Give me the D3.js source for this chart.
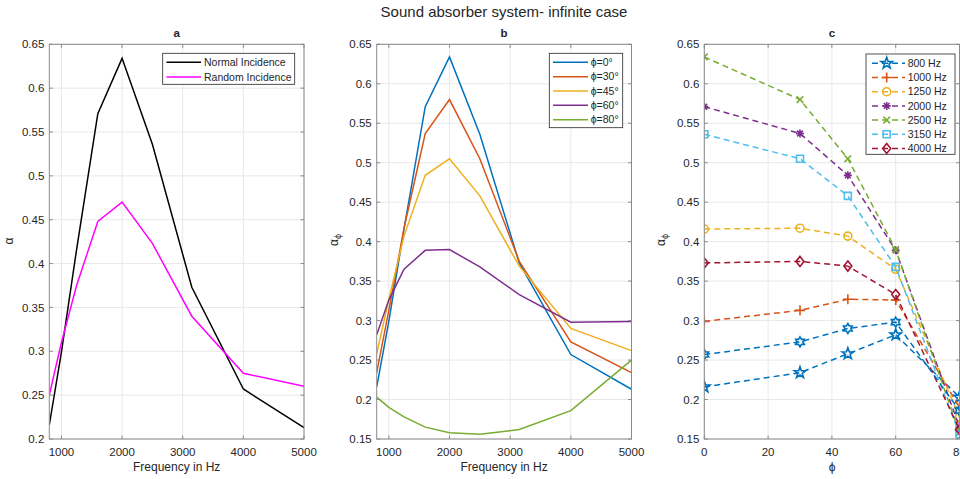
<!DOCTYPE html>
<html><head><meta charset="utf-8">
<script src="https://cdn.jsdelivr.net/npm/d3@7"></script>
<style>
body{margin:0;background:#fff}
svg{display:block}
text{font-family:"Liberation Sans",Arial,Helvetica,sans-serif;fill:#262626}
</style>
</head><body>
<svg id="chart" width="960" height="479"></svg>
<script>
// ---------------- DATA ----------------
const freqs = [800, 1000, 1250, 1600, 2000, 2500, 3150, 4000, 5000];
const freqTicks = [1000, 2000, 3000, 4000, 5000];

const normalIncidence = [0.216, 0.299, 0.416, 0.571, 0.634, 0.536, 0.373, 0.257, 0.213];
const randomIncidence = [0.250, 0.310, 0.375, 0.448, 0.470, 0.423, 0.340, 0.275, 0.260];

const phi0  = [0.216, 0.299, 0.416, 0.571, 0.634, 0.536, 0.373, 0.257, 0.213];
const phi30 = [0.234, 0.313, 0.417, 0.537, 0.580, 0.505, 0.375, 0.273, 0.234];
const phi45 = [0.258, 0.327, 0.407, 0.484, 0.505, 0.458, 0.369, 0.290, 0.262];
const phi60 = [0.282, 0.326, 0.365, 0.389, 0.390, 0.368, 0.333, 0.298, 0.299];
const phi80 = [0.203, 0.190, 0.178, 0.165, 0.158, 0.156, 0.162, 0.186, 0.250];

const angles = [0, 30, 45, 60, 80];
const angleTicks = [0, 20, 40, 60, 80];
const angleLabels = ["ϕ=0°", "ϕ=30°", "ϕ=45°", "ϕ=60°", "ϕ=80°"];

// panel c: one series per frequency (first 8 frequencies), legend for first 7
const cSeriesCount = 8;
const cLegendLabels = ["800 Hz", "1000 Hz", "1250 Hz", "2000 Hz", "2500 Hz", "3150 Hz", "4000 Hz"];
const cMarkers = ["pentagram", "plus", "circle", "asterisk", "x", "square", "diamond", "hexagram"];

const yTicksA = [0.2, 0.25, 0.3, 0.35, 0.4, 0.45, 0.5, 0.55, 0.6, 0.65];
const yTicksBC = [0.15, 0.2, 0.25, 0.3, 0.35, 0.4, 0.45, 0.5, 0.55, 0.6, 0.65];

const colors = ["#0072BD", "#D95319", "#EDB120", "#7E2F8E", "#77AC30", "#4DBEEE", "#A2142F"];

// ---------------- LAYOUT ----------------
const svg = d3.select("#chart");
const yTop = 44.3, yBottom = 439;
const panels = {
  a: {l: 49.3, r: 304},
  b: {l: 376.7, r: 631.5},
  c: {l: 704.3, r: 959.5}
};
const axisCol = "#8a8a8a", gridCol = "#e8e8e8";
const tickFs = 11.5;

function fmt(v){ return String(+v.toFixed(2)); }

function makeAxes(p, xDomain, yDomain, xTicks, yTicks, title, id){
  const x = d3.scaleLinear().domain(xDomain).range([p.l, p.r]);
  const y = d3.scaleLinear().domain(yDomain).range([yBottom, yTop]);
  const g = svg.append("g");
  g.selectAll(null).data(xTicks).enter().append("line")
    .attr("x1", d=>x(d)).attr("x2", d=>x(d)).attr("y1", yTop).attr("y2", yBottom)
    .attr("stroke", gridCol).attr("stroke-width", 1);
  g.selectAll(null).data(yTicks).enter().append("line")
    .attr("x1", p.l).attr("x2", p.r).attr("y1", d=>y(d)).attr("y2", d=>y(d))
    .attr("stroke", gridCol).attr("stroke-width", 1);
  svg.append("clipPath").attr("id", "clip"+id).append("rect")
    .attr("x", p.l).attr("y", yTop).attr("width", p.r-p.l).attr("height", yBottom-yTop);
  const plot = svg.append("g").attr("clip-path", "url(#clip"+id+")");
  const front = svg.append("g");
  front.append("rect").attr("x", p.l).attr("y", yTop).attr("width", p.r-p.l).attr("height", yBottom-yTop)
    .attr("fill", "none").attr("stroke", axisCol).attr("stroke-width", 1);
  const tl = 3.5;
  xTicks.forEach(t=>{
    front.append("line").attr("x1", x(t)).attr("x2", x(t)).attr("y1", yBottom).attr("y2", yBottom-tl).attr("stroke", axisCol);
    front.append("line").attr("x1", x(t)).attr("x2", x(t)).attr("y1", yTop).attr("y2", yTop+tl).attr("stroke", axisCol);
    front.append("text").attr("x", x(t)).attr("y", 455.5).attr("text-anchor", "middle")
      .attr("font-size", tickFs).text(t);
  });
  yTicks.forEach(t=>{
    front.append("line").attr("x1", p.l).attr("x2", p.l+tl).attr("y1", y(t)).attr("y2", y(t)).attr("stroke", axisCol);
    front.append("line").attr("x1", p.r).attr("x2", p.r-tl).attr("y1", y(t)).attr("y2", y(t)).attr("stroke", axisCol);
    front.append("text").attr("x", p.l-5).attr("y", y(t)).attr("dy", "0.36em").attr("text-anchor", "end")
      .attr("font-size", tickFs).text(fmt(t));
  });
  front.append("text").attr("x", (p.l+p.r)/2).attr("y", 37).attr("text-anchor", "middle")
    .attr("font-size", 11.5).attr("font-weight", "bold").text(title);
  return {x, y, plot, front};
}

svg.append("text").attr("x", 504).attr("y", 16.5).attr("text-anchor", "middle")
  .attr("font-size", 15).text("Sound absorber system- infinite case");

// ---------------- PANEL A ----------------
const A = makeAxes(panels.a, [800, 5000], [0.2, 0.65], freqTicks, yTicksA, "a", "a");
const lineA = d3.line().x((d,i)=>A.x(freqs[i])).y(d=>A.y(d));
A.plot.append("path").datum(normalIncidence).attr("d", lineA).attr("fill","none").attr("stroke","#000").attr("stroke-width",1.5);
A.plot.append("path").datum(randomIncidence).attr("d", lineA).attr("fill","none").attr("stroke","#FF00FF").attr("stroke-width",1.5);
svg.append("text").attr("x", (panels.a.l+panels.a.r)/2).attr("y", 471).attr("text-anchor","middle").attr("font-size",12).text("Frequency in Hz");
svg.append("text").attr("transform","translate(13,241) rotate(-90)").attr("text-anchor","middle").attr("font-size",12).text("α");
(function(){
  const g = svg.append("g");
  g.append("rect").attr("x",162.7).attr("y",53.3).attr("width",132).attr("height",31).attr("fill","#fff").attr("stroke","#262626").attr("stroke-width",0.8);
  const items = [["Normal Incidence","#000"],["Random Incidence","#FF00FF"]];
  items.forEach((it,i)=>{
    const yy = 62.3 + i*14.7;
    g.append("line").attr("x1",166.5).attr("x2",201).attr("y1",yy).attr("y2",yy).attr("stroke",it[1]).attr("stroke-width",1.5);
    g.append("text").attr("x",204).attr("y",yy).attr("dy","0.36em").attr("font-size",10.5).text(it[0]);
  });
})();

// ---------------- PANEL B ----------------
const B = makeAxes(panels.b, [800, 5000], [0.15, 0.65], freqTicks, yTicksBC, "b", "b");
const lineB = d3.line().x((d,i)=>B.x(freqs[i])).y(d=>B.y(d));
const phiSeries = [phi0, phi30, phi45, phi60, phi80];
phiSeries.forEach((s,i)=>{
  B.plot.append("path").datum(s).attr("d", lineB).attr("fill","none").attr("stroke",colors[i]).attr("stroke-width",1.5);
});
svg.append("text").attr("x", (panels.b.l+panels.b.r)/2).attr("y", 471).attr("text-anchor","middle").attr("font-size",12).text("Frequency in Hz");
function alphaPhiLabel(xp){
  const t = svg.append("text").attr("transform",`translate(${xp},240) rotate(-90)`).attr("text-anchor","middle").attr("font-size",12);
  t.append("tspan").text("α");
  t.append("tspan").attr("font-size",9).attr("dy",3).text("ϕ");
}
alphaPhiLabel(338);
(function(){
  const g = svg.append("g");
  g.append("rect").attr("x",549.3).attr("y",53.3).attr("width",73.4).attr("height",74.4).attr("fill","#fff").attr("stroke","#262626").attr("stroke-width",0.8);
  angleLabels.forEach((lab,i)=>{
    const yy = 62.3 + i*14.35;
    g.append("line").attr("x1",553).attr("x2",588).attr("y1",yy).attr("y2",yy).attr("stroke",colors[i]).attr("stroke-width",1.5);
    g.append("text").attr("x",590.7).attr("y",yy).attr("dy","0.36em").attr("font-size",10.5).text(lab);
  });
})();

// ---------------- PANEL C ----------------
function markerPath(type){
  const star = (n, R, r) => {
    const pts = [];
    for (let k=0;k<2*n;k++){
      const a = -Math.PI/2 + k*Math.PI/n;
      const rr = k%2===0 ? R : r;
      pts.push([rr*Math.cos(a), rr*Math.sin(a)]);
    }
    return "M" + pts.map(p=>p[0].toFixed(2)+","+p[1].toFixed(2)).join("L") + "Z";
  };
  switch(type){
    case "pentagram": return star(5, 6, 2.4);
    case "hexagram": return star(6, 5, 2.9);
    case "plus": return "M-5,0H5M0,-5V5";
    case "circle": return "M4,0A4,4 0 1,1 -4,0A4,4 0 1,1 4,0Z";
    case "asterisk": return "M-4,0H4M0,-4V4M-2.9,-2.9L2.9,2.9M-2.9,2.9L2.9,-2.9";
    case "x": return "M-3.3,-3.3L3.3,3.3M-3.3,3.3L3.3,-3.3";
    case "square": return "M-3.5,-3.5H3.5V3.5H-3.5Z";
    case "diamond": return "M0,-5L4,0L0,5L-4,0Z";
  }
}
const C = makeAxes(panels.c, [0, 80], [0.15, 0.65], angleTicks, yTicksBC, "c", "c");
const lineC = d3.line().x((d,i)=>C.x(angles[i])).y(d=>C.y(d));
for (let i=0;i<cSeriesCount;i++){
  const vals = phiSeries.map(s=>s[i]);
  const col = colors[i%colors.length];
  C.plot.append("path").datum(vals).attr("d", lineC).attr("fill","none").attr("stroke",col)
    .attr("stroke-width",1.5).attr("stroke-dasharray","6,4");
  C.plot.selectAll(null).data(vals).enter().append("path")
    .attr("transform",(d,j)=>`translate(${C.x(angles[j])},${C.y(d)})`)
    .attr("d", markerPath(cMarkers[i])).attr("fill","none").attr("stroke",col).attr("stroke-width",1.6);
}
svg.append("text").attr("x", 832).attr("y", 471).attr("text-anchor","middle").attr("font-size",12).text("ϕ");
alphaPhiLabel(665);
(function(){
  const g = svg.append("g");
  g.append("rect").attr("x",866).attr("y",54).attr("width",89).attr("height",100.3).attr("fill","#fff").attr("stroke","#262626").attr("stroke-width",0.8);
  cLegendLabels.forEach((lab,i)=>{
    const yy = 63.3 + i*14.2;
    g.append("line").attr("x1",870).attr("x2",905).attr("y1",yy).attr("y2",yy).attr("stroke",colors[i]).attr("stroke-width",1.5).attr("stroke-dasharray","6,4").attr("stroke-dashoffset",-2);
    g.append("path").attr("transform",`translate(886.7,${yy})`).attr("d",markerPath(cMarkers[i])).attr("fill","none").attr("stroke",colors[i]).attr("stroke-width",1.6);
    g.append("text").attr("x",907.7).attr("y",yy).attr("dy","0.36em").attr("font-size",10.5).text(lab);
  });
})();
</script>
</body></html>
